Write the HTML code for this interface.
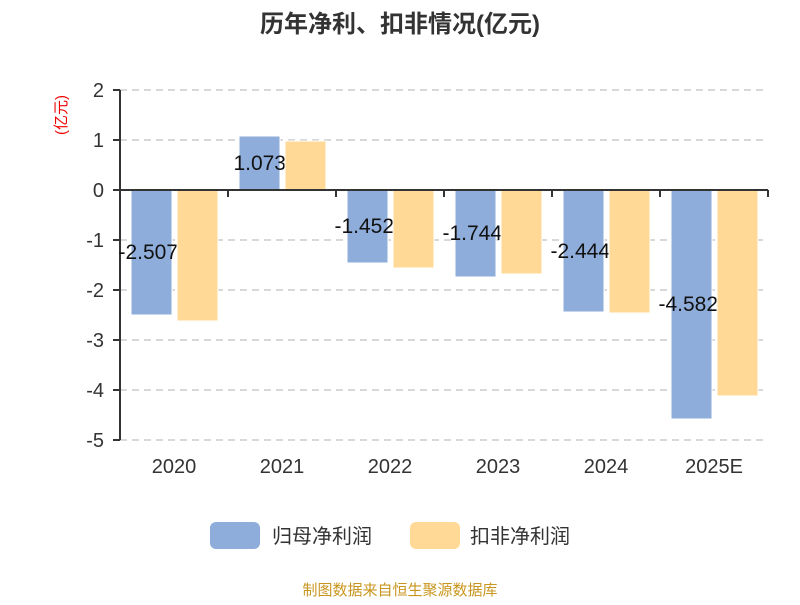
<!DOCTYPE html>
<html><head><meta charset="utf-8"><style>
body{margin:0;background:#fff;}
svg text{font-family:"Liberation Sans","Noto Sans CJK SC",sans-serif;}
</style></head><body>
<svg width="800" height="600" xmlns="http://www.w3.org/2000/svg">
<text x="400" y="32" text-anchor="middle" font-size="24" font-weight="bold" fill="#333">历年净利、扣非情况(亿元)</text>
<text transform="translate(66,115) rotate(-90)" text-anchor="middle" font-size="15" fill="#e00">(亿元)</text>
<g stroke="#ccc" stroke-dasharray="7,5" stroke-width="1.5">
<line x1="120" y1="90" x2="768" y2="90"/><line x1="120" y1="140" x2="768" y2="140"/>
<line x1="120" y1="240" x2="768" y2="240"/><line x1="120" y1="290" x2="768" y2="290"/>
<line x1="120" y1="340" x2="768" y2="340"/><line x1="120" y1="390" x2="768" y2="390"/>
<line x1="120" y1="440" x2="768" y2="440"/>
</g>
<g font-size="20" fill="#333" text-anchor="end">
<text x="104" y="97">2</text><text x="104" y="147">1</text><text x="104" y="197">0</text>
<text x="104" y="247">-1</text><text x="104" y="297">-2</text><text x="104" y="347">-3</text>
<text x="104" y="397">-4</text><text x="104" y="447">-5</text>
</g>
<g stroke="#333" stroke-width="2">
<line x1="120" y1="90" x2="120" y2="440"/>
<line x1="113" y1="90" x2="120" y2="90"/><line x1="113" y1="140" x2="120" y2="140"/><line x1="113" y1="190" x2="120" y2="190"/>
<line x1="113" y1="240" x2="120" y2="240"/><line x1="113" y1="290" x2="120" y2="290"/><line x1="113" y1="340" x2="120" y2="340"/>
<line x1="113" y1="390" x2="120" y2="390"/><line x1="113" y1="440" x2="120" y2="440"/>
</g>
<g fill="#8eadda" stroke="#fff" stroke-width="1">
<rect x="131" y="190" width="41" height="125"/>
<rect x="239" y="136" width="41" height="54"/>
<rect x="347" y="190" width="41" height="73"/>
<rect x="455" y="190" width="41" height="87"/>
<rect x="563" y="190" width="41" height="122"/>
<rect x="671" y="190" width="41" height="229"/>
</g>
<g font-size="21" fill="#111" text-anchor="end">
<text x="178" y="259">-2.507</text>
<text x="286" y="170">1.073</text>
<text x="394" y="233">-1.452</text>
<text x="502" y="240">-1.744</text>
<text x="610" y="258">-2.444</text>
<text x="718" y="311">-4.582</text>
</g>
<g fill="#ffd995" stroke="#fff" stroke-width="1">
<rect x="177" y="190" width="41" height="131"/>
<rect x="285" y="141" width="41" height="49"/>
<rect x="393" y="190" width="41" height="78"/>
<rect x="501" y="190" width="41" height="84"/>
<rect x="609" y="190" width="41" height="123"/>
<rect x="717" y="190" width="41" height="206"/>
</g>
<g stroke="#333" stroke-width="2">
<line x1="120" y1="190" x2="768" y2="190"/>
<line x1="228" y1="190" x2="228" y2="197"/><line x1="336" y1="190" x2="336" y2="197"/>
<line x1="444" y1="190" x2="444" y2="197"/><line x1="552" y1="190" x2="552" y2="197"/>
<line x1="660" y1="190" x2="660" y2="197"/><line x1="768" y1="190" x2="768" y2="197"/>
</g>
<g font-size="20" fill="#333" text-anchor="middle">
<text x="174" y="473">2020</text><text x="282" y="473">2021</text><text x="390" y="473">2022</text>
<text x="498" y="473">2023</text><text x="606" y="473">2024</text><text x="714" y="473">2025E</text>
</g>
<rect x="210" y="522" width="50" height="27" rx="6" fill="#8eadda"/>
<text x="272" y="543" font-size="20" fill="#333">归母净利润</text>
<rect x="410" y="522" width="50" height="27" rx="6" fill="#ffd995"/>
<text x="470" y="543" font-size="20" fill="#333">扣非净利润</text>
<text x="400" y="595" text-anchor="middle" font-size="15" fill="#c8961e">制图数据来自恒生聚源数据库</text>
</svg>
</body></html>
